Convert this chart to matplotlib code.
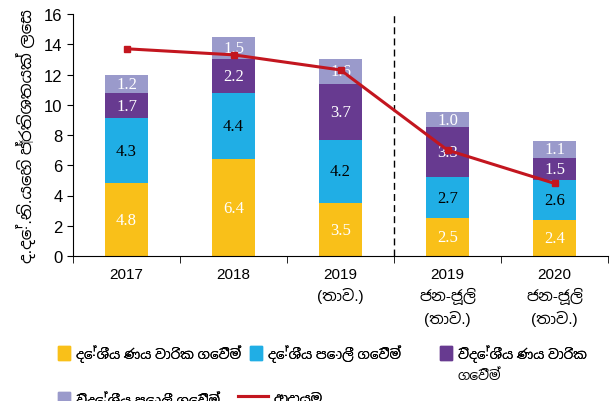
import matplotlib
matplotlib.use("Agg")
import matplotlib.pyplot as plt
from matplotlib import font_manager
from matplotlib.patches import Patch
from matplotlib.lines import Line2D
import numpy as np

# chart data (% of GDP)
categories = ["2017", "2018", "2019\n(තාව.)", "2019\nජන-ජූලි\n(තාව.)", "2020\nජන-ජූලි\n(තාව.)"]
dom_amort = [4.8, 6.4, 3.5, 2.5, 2.4]
dom_interest = [4.3, 4.4, 4.2, 2.7, 2.6]
for_amort = [1.7, 2.2, 3.7, 3.3, 1.5]
for_interest = [1.2, 1.5, 1.6, 1.0, 1.1]
revenue = [13.7, 13.3, 12.3, 7.0, 4.8]

# third label wraps onto a second line in the original
series_labels = ["දේශීය ණය වාරික ගෙවීම්", "දේශීය පොලී ගෙවීම්",
                 "විදේශීය ණය වාරික", "විදේශීය පොලී ගෙවීම්"]
label3_wrap = "ගෙවීම්"
line_label = "ආදායම"
ylabel = "ද.දේ.නි.යෙහි ප්‍රතිශතයක් ලෙස"

colors = ["#F9C019", "#20AEE5", "#673A90", "#9A9ACB"]
text_colors = ["white", "black", "white", "white"]
line_color = "#C3161F"

# use a Sinhala font if one happens to be installed (as fallback after Latin)
sinhala = [f.name for f in font_manager.fontManager.ttflist
           if "sinhala" in f.name.lower() or "iskoola" in f.name.lower()]
sans_fam = ["Liberation Sans"] + sinhala[:1] + ["DejaVu Sans"]
serif_fam = ["Liberation Serif", "DejaVu Serif"]
plt.rcParams["font.family"] = sans_fam

fig = plt.figure(figsize=(6.16, 4.02), dpi=100)
ax = fig.add_axes([73 / 616, 1 - 257 / 402, (608 - 73) / 616, 242 / 402])

x = np.arange(len(categories))
series = [dom_amort, dom_interest, for_amort, for_interest]
bottom = np.zeros(len(categories))
for vals, col, tcol in zip(series, colors, text_colors):
    vals = np.array(vals)
    ax.bar(x, vals, 0.4, bottom=bottom, color=col, zorder=2)
    for xi, b, v in zip(x, bottom, vals):
        ax.text(xi, b + v / 2, f"{v:.1f}", ha="center", va="center",
                color=tcol, fontsize=12, family=serif_fam, zorder=3)
    bottom += vals

ax.plot(x, revenue, color=line_color, lw=2.2, marker="s", ms=5, zorder=4)

ax.axvline(2.5, color="black", ls=(0, (5, 3)), lw=1)

ax.set_xlim(-0.5, len(categories) - 0.5)
ax.set_ylim(0, 16)
ax.set_yticks(range(0, 17, 2))
ax.tick_params(axis="y", labelsize=12, length=4, direction="out")
ax.set_xticks(x)
ax.set_xticklabels(categories, fontsize=11, linespacing=1.45, va="top")
ax.tick_params(axis="x", which="major", length=0, pad=8)
ax.set_xticks(np.arange(-0.5, len(categories)), minor=True)
ax.tick_params(axis="x", which="minor", length=5, direction="out")
for s in ["top", "right"]:
    ax.spines[s].set_visible(False)
ax.set_ylabel(ylabel, fontsize=12, labelpad=6)

# legend: one small legend per entry so each sits where the original has it
fs = 9.8
handles = [Patch(color=c) for c in colors] + [Line2D([], [], color=line_color, lw=2.2)]
labels = series_labels + [line_label]
anchors = [(58, 345), (250, 345), (440, 345), (58, 391), (238, 391)]
leg_kw = dict(loc="upper left", frameon=False, fontsize=fs, handlelength=0.9,
              handleheight=1.2, handletextpad=0.4, borderpad=0, borderaxespad=0)
for hd, lb, (px, py) in zip(handles, labels, anchors):
    kw = dict(leg_kw)
    if isinstance(hd, Line2D):
        kw["handlelength"] = 2.2
    leg = fig.legend([hd], [lb], bbox_to_anchor=(px / 616, 1 - py / 402), **kw)
    fig.add_artist(leg)

# second line of the wrapped third entry
text_x = 440 + (0.9 + 0.4) * fs * 100 / 72
fig.text(text_x / 616, 1 - 376 / 402, label3_wrap, fontsize=fs, va="center", ha="left")

fig.savefig("out.png", dpi=100)
